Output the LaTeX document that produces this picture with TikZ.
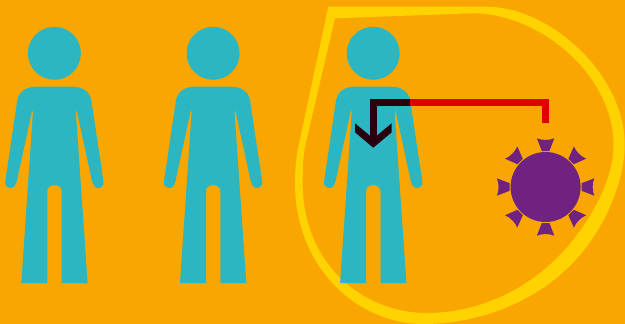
\documentclass[tikz,border=0pt]{standalone}
\definecolor{pagebg}{HTML}{F9A700}
\definecolor{personteal}{HTML}{2CB6C2}
\definecolor{bubbleyellow}{HTML}{FFD200}
\definecolor{virusviolet}{HTML}{6F2282}
\definecolor{linkred}{HTML}{E00000}
\definecolor{linkdark}{HTML}{2A0010}

\begin{document}
\begin{tikzpicture}[
  x=1pt,
  y=-1pt,
  line join=miter,
  person/.style={fill=personteal},
  bubble/.style={fill=bubbleyellow,even odd rule},
  virus/.style={fill=virusviolet},
  redlink/.style={draw=linkred,line width=6.7pt},
  darklink/.style={draw=linkdark,line width=6.7pt}
]
  % Match the original frame.
  \useasboundingbox (0,0) rectangle (625,324);
  \fill[pagebg] (0,0) rectangle (625,324);

  % Outer and inner outline of the bubble round the third person.
  \fill[bubble]
    (328.3,6.7) -- (486.7,6.7)
      .. controls (548.7,6.7) and (624.7,73) .. (624.7,145)
      .. controls (624.7,180) and (606,225) .. (580,255)
      .. controls (537.8,304.4) and (475,324) .. (423,324)
      .. controls (358,324) and (295,268) .. (295,183)
      .. controls (295,170) and (296,158) .. (298.3,147) -- cycle
    (335,18.3) -- (471.7,13.3)
      .. controls (540,13) and (613.5,75) .. (613.5,145)
      .. controls (613.5,180) and (591.6,216.6) .. (573,240)
      .. controls (532.7,290.7) and (477,313) .. (427,313)
      .. controls (362,313) and (302.7,263.3) .. (302.7,183.3)
      .. controls (302.7,170) and (303,158) .. (305,146.7) -- cycle;

  % One figure, repeated for each person.
  \foreach \personx in {0,158.7,318.8} {
    \begin{scope}[xshift=\personx pt]
      \fill[person] (54.4,53.3) circle[radius=26.5];
      \fill[person] (17.3,100)
        .. controls (19,91) and (27,86.7) .. (36,86.7) -- (72.6,86.7)
        .. controls (81.6,86.7) and (89.6,91) .. (91.3,100)
        -- (103.6,182)
        .. controls (104,186) and (100.5,188) .. (98,188)
        .. controls (95,188) and (93,185) .. (92.2,182)
        -- (76.8,111) -- (75.8,111) -- (87.6,283) -- (61.7,283) -- (61.7,191)
        .. controls (61.7,187) and (58,185) .. (54.5,185)
        .. controls (51,185) and (47.3,187) .. (47.3,191)
        -- (47.3,283) -- (21.3,283) -- (33,111) -- (32,111) -- (16.6,182)
        .. controls (15.8,185) and (13.8,188) .. (10.8,188)
        .. controls (8.3,188) and (4.8,186) .. (5.2,182) -- cycle;
    \end{scope}
  }

  % Link from the virus to the body; it turns dark over the figure.
  \coordinate (linkEnd) at (545.6,123);
  \coordinate (linkCorner) at (545.6,102.6);
  \coordinate (bodyEdge) at (410,102.6);
  \coordinate (linkTurn) at (373.3,102.6);
  \coordinate (shaftEnd) at (373.3,140);
  \draw[redlink] (linkEnd) -- (linkCorner) -- (bodyEdge);
  \draw[darklink] (bodyEdge) -- (linkTurn) -- (shaftEnd);
  \fill[linkdark] (355,123.3) -- (373.3,138.5) -- (391.7,123.3) -- (391.7,132.3)
    -- (373.3,147.7) -- (355,132.3) -- cycle;

  % Virus body and its eight spikes.
  \fill[virus] (545.6,187) circle[radius=35];
  \foreach \spike in {0,45,...,315} {
    \fill[virus,rotate around={\spike:(545.6,187)}] (536.9,138.3)
      .. controls (542,140.5) and (549,140.5) .. (554.3,138.3)
      -- (549.4,151) -- (541.8,151) -- cycle;
  }
\end{tikzpicture}
\end{document}
